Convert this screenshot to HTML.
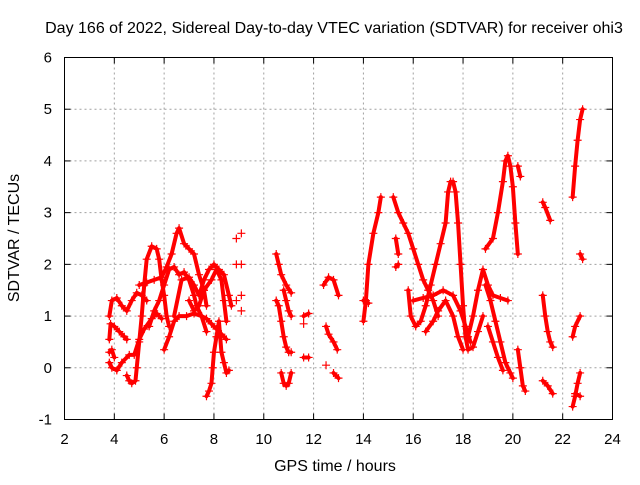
<!DOCTYPE html>
<html><head><meta charset="utf-8"><style>
body{margin:0;background:#fff;width:640px;height:480px;overflow:hidden}
svg text{font-family:"Liberation Sans",sans-serif;font-size:15px;fill:#000}
svg text.big{font-size:16px}
</style></head><body>
<svg id="chart" width="640" height="480" xmlns="http://www.w3.org/2000/svg"></svg>
<script>
const xTicks=[2,4,6,8,10,12,14,16,18,20,22,24];
const yTicks=[-1,0,1,2,3,4,5,6];
const trackX=[
[3.8,3.9,4.1,4.3,4.5,4.7,4.9,5.1,5.3],
[3.8,3.85,4.0,4.2,4.4,4.5],
[3.8,3.9,4.1,4.3,4.6,4.8,5.0,5.2,5.5,5.7,5.9],
[3.8,3.9,4.0],
[4.5,4.6,4.7,4.85,4.9,5.0,5.1,5.2,5.3,5.5,5.7,5.8,5.9,6.0,6.1,6.2],
[5.0,5.3,5.6,5.9,6.1,6.3,6.5,6.6,6.8,7.0,7.2,7.4,7.6,7.7],
[6.0,6.2,6.4,6.6,6.9,7.2,7.5,7.7,7.9,8.1,8.3,8.5],
[5.4,5.6,5.8,6.0,6.2,6.4,6.6,6.8,7.0,7.2,7.3,7.5,7.7],
[6.4,6.7,7.0,7.2,7.4,7.6,7.8,8.0,8.2,8.4,8.6,8.7],
[7.0,7.2,7.4,7.6,7.9,8.1,8.3,8.4,8.5],
[7.7,7.8,7.9,7.95,8.0,8.1,8.2,8.3,8.4,8.5,8.6],
[8.9],[9.1],[8.9],[9.1],[9.1],[8.9],[9.1],
[10.5,10.6,10.7,10.9,11.1],
[10.5,10.6,10.7,10.8,10.9,11.0,11.1],
[10.7,10.8,10.9,11.0,11.1],
[10.8,10.9,11.0,11.1],
[11.6,11.8],[11.6,11.8],[11.6],
[12.4,12.6,12.8,13.0],
[12.5,12.6,12.8,12.95],
[12.8,13.0],[12.5],
[14.0,14.1,14.2,14.4,14.6,14.7],
[14.0,14.2],
[15.2,15.4,15.6,15.8,16.0,16.2,16.4,16.6,16.8,17.0],
[15.3,15.4],[15.3,15.4],
[15.8,15.9,16.1,16.3,16.5,16.7,16.9,17.1,17.3,17.4,17.5],
[17.6,17.7,17.8,17.9,18.0,18.1,18.2,18.4,18.6,18.8],
[16.0,16.4,16.8,17.2,17.6,17.9,18.1,18.3],
[16.5,16.8,17.0,17.3,17.6,17.8,18.0],
[18.2,18.4,18.6,18.8,19.0,19.2,19.5,19.8],
[18.9,19.2,19.4,19.6,19.7,19.8,19.9,20.0,20.1,20.2],
[18.9,19.1,19.3,19.5,19.7,19.9,20.0],
[19.0,19.2,19.4,19.6],
[20.2,20.3],
[20.2,20.3,20.4,20.5],
[21.2,21.3,21.5],
[21.2,21.3,21.4,21.5,21.6],
[21.2,21.4,21.6],
[22.4,22.5,22.6,22.7,22.8],
[22.4,22.5,22.7],
[22.4,22.5,22.6,22.7],
[22.5,22.7],
[22.7,22.8]
];
const trackY=[
[1.0,1.3,1.35,1.2,1.1,1.3,1.45,1.4,1.3],
[0.55,0.85,0.8,0.7,0.6,0.55],
[0.1,0.0,-0.05,0.1,0.25,0.25,0.55,0.75,0.95,1.05,0.95],
[0.3,0.35,0.2],
[-0.15,-0.25,-0.3,-0.25,0.0,0.5,1.0,1.6,2.1,2.35,2.3,2.1,1.7,1.4,1.0,0.8],
[1.6,1.65,1.7,1.75,1.95,2.2,2.6,2.7,2.4,2.3,2.2,1.8,1.5,1.2],
[0.35,0.6,0.9,1.0,1.0,1.05,1.0,0.95,0.85,0.75,0.65,0.55],
[0.8,1.1,1.3,1.6,1.9,1.95,1.8,1.85,1.7,1.4,1.2,1.0,0.7],
[1.0,1.7,1.75,1.6,1.4,1.7,1.9,2.0,1.9,1.8,1.4,1.2],
[1.3,1.1,1.2,1.5,1.7,1.9,1.7,1.3,0.9],
[-0.55,-0.45,-0.3,0.0,0.3,0.6,0.9,0.3,0.1,-0.1,-0.05],
[2.5],[2.6],[2.0],[2.0],[1.4],[1.3],[1.1],
[2.2,2.0,1.8,1.6,1.45],
[1.3,1.2,0.9,0.6,0.4,0.3,0.3],
[-0.1,-0.3,-0.35,-0.3,-0.1],
[1.5,1.3,1.1,1.0],
[1.0,1.05],[0.2,0.2],[0.85],
[1.6,1.75,1.7,1.4],
[0.8,0.65,0.5,0.35],
[-0.1,-0.2],[0.05],
[0.9,1.3,2.0,2.6,3.0,3.3],
[1.3,1.25],
[3.3,3.0,2.8,2.6,2.3,2.0,1.7,1.5,1.3,1.0],
[2.5,2.2],[1.95,2.0],
[1.5,1.0,0.8,0.9,1.2,1.6,2.0,2.4,2.8,3.4,3.6],
[3.6,3.4,2.8,2.0,1.2,0.6,0.35,0.4,0.7,1.0],
[1.3,1.35,1.4,1.5,1.4,1.1,0.8,0.5],
[0.7,0.9,1.1,1.3,1.0,0.6,0.35],
[0.6,1.0,1.5,1.9,1.6,1.4,1.35,1.3],
[2.3,2.5,3.0,3.6,4.0,4.1,3.9,3.5,2.8,2.2],
[1.6,1.3,0.9,0.5,0.1,-0.1,-0.2],
[0.8,0.5,0.2,-0.05],
[3.9,3.7],
[0.35,0.0,-0.35,-0.45],
[3.2,3.1,2.85],
[1.4,1.0,0.7,0.5,0.4],
[-0.25,-0.35,-0.5],
[3.3,3.9,4.4,4.8,5.0],
[0.6,0.8,1.0],
[-0.75,-0.55,-0.3,-0.1],
[-0.5,-0.55],
[2.2,2.1]
];
const NS="http://www.w3.org/2000/svg";
const L=64.5,R=612.5,T=57.5,B=419.5;
const sx=v=>L+(v-2)/(24-2)*(R-L);
const sy=v=>B-(v+1)/(6+1)*(B-T);
const svg=document.getElementById('chart');
function mk(tag,attrs,parent){const e=document.createElementNS(NS,tag);for(const k in attrs)e.setAttribute(k,attrs[k]);(parent||svg).appendChild(e);return e;}
xTicks.forEach(v=>{if(v>2&&v<24){const g=mk('line',{x1:sx(v),x2:sx(v),y1:T,y2:B,stroke:'#a0a0a0','stroke-dasharray':'2,3','stroke-width':1});

}});
yTicks.forEach(v=>{if(v>-1&&v<6){const g=mk('line',{x1:L,x2:R,y1:sy(v),y2:sy(v),stroke:'#a0a0a0','stroke-dasharray':'2,3','stroke-width':1});

}});
const dg=mk('g',{});


trackX.forEach((xs,i)=>{
  const ys=trackY[i];
  if(xs.length>1){
    const pl=mk('polyline',{points:xs.map((x,j)=>sx(x)+','+sy(ys[j])).join(' '),fill:'none',stroke:'#ff0000','stroke-width':4,'stroke-linejoin':'round','stroke-linecap':'round'},dg);
    
    
  }
  xs.forEach((x,j)=>{
    const px=sx(x),py=sy(ys[j]);
    const p=mk('path',{d:`M${px-4},${py}H${px+4}M${px},${py-4}V${py+4}`,stroke:'#ff0000','stroke-width':1.2},dg);
    
    
  });
});
const fr=mk('rect',{x:L,y:T,width:R-L,height:B-T,fill:'none',stroke:'#000','stroke-width':1});


xTicks.forEach(v=>{
  mk('line',{x1:sx(v),x2:sx(v),y1:B,y2:B-6,stroke:'#000'});
  mk('line',{x1:sx(v),x2:sx(v),y1:T,y2:T+6,stroke:'#000'});
  const t=mk('text',{x:sx(v),y:444,'text-anchor':'middle'});t.textContent=v;
  
  
});
yTicks.forEach(v=>{
  mk('line',{x1:L,x2:L+6,y1:sy(v),y2:sy(v),stroke:'#000'});
  mk('line',{x1:R,x2:R-6,y1:sy(v),y2:sy(v),stroke:'#000'});
  const t=mk('text',{x:52,y:sy(v)+5,'text-anchor':'end'});t.textContent=v;
  
  
});
const ti=mk('text',{x:334,y:33,'text-anchor':'middle',class:'big'});ti.textContent='Day 166 of 2022, Sidereal Day-to-day VTEC variation (SDTVAR) for receiver ohi3';


const xl=mk('text',{x:335,y:471,'text-anchor':'middle',class:'big'});xl.textContent='GPS time / hours';


const yl=mk('text',{x:0,y:0,'text-anchor':'middle',class:'big',transform:'translate(19,238) rotate(-90)'});yl.textContent='SDTVAR / TECUs';


</script>
</body></html>
